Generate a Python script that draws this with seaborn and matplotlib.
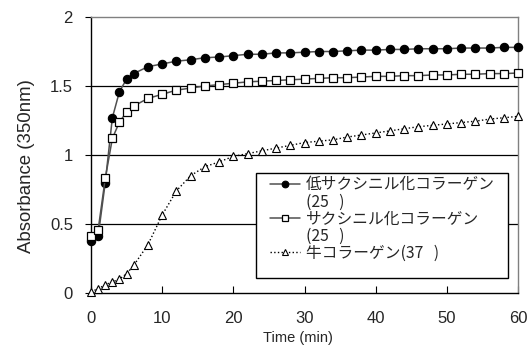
import numpy as np
import pandas as pd
import matplotlib
matplotlib.use("Agg")
import matplotlib.pyplot as plt
from matplotlib.lines import Line2D
from matplotlib.patches import Rectangle
import seaborn as sns

time = [0, 1, 2, 3, 4, 5, 6, 8, 10, 12, 14, 16, 18, 20, 22, 24, 26, 28, 30,
        32, 34, 36, 38, 40, 42, 44, 46, 48, 50, 52, 54, 56, 58, 60]
low_succ = [0.38, 0.41, 0.80, 1.27, 1.46, 1.55, 1.59, 1.64, 1.66, 1.68, 1.69, 1.705,
            1.71, 1.72, 1.73, 1.73, 1.74, 1.74, 1.745, 1.75, 1.75, 1.755, 1.76, 1.76,
            1.765, 1.765, 1.77, 1.77, 1.77, 1.775, 1.775, 1.775, 1.78, 1.78]
succ = [0.415, 0.457, 0.83, 1.12, 1.24, 1.31, 1.355, 1.41, 1.44, 1.47, 1.485, 1.50,
        1.51, 1.52, 1.53, 1.535, 1.54, 1.545, 1.55, 1.555, 1.56, 1.56, 1.565, 1.57,
        1.57, 1.575, 1.575, 1.58, 1.58, 1.585, 1.585, 1.59, 1.59, 1.594]
bovine = [0.01, 0.03, 0.06, 0.08, 0.10, 0.14, 0.20, 0.35, 0.565, 0.74, 0.85, 0.915,
          0.95, 0.99, 1.01, 1.03, 1.05, 1.07, 1.09, 1.10, 1.11, 1.13, 1.145, 1.16,
          1.175, 1.19, 1.205, 1.215, 1.225, 1.235, 1.245, 1.26, 1.27, 1.28]
labels = ["低サクシニル化コラーゲン", "サクシニル化コラーゲン", "牛コラーゲン(37   )"]
sublabel = "(25   )"
xticks = [0, 10, 20, 30, 40, 50, 60]
yticks = [0, 0.5, 1, 1.5, 2]
ytick_labels = ["0", "0.5", "1", "1.5", "2"]

sns.set_theme(style="white")
plt.rcParams['font.family'] = ['Liberation Sans', 'DejaVu Sans']

fig = plt.figure(figsize=(5.31, 3.5), dpi=100)
ax = fig.add_axes([0.1714, 0.1629, 0.8041, 0.7885])

sns.lineplot(x=time, y=low_succ, ax=ax, color="#505050", lw=1.1, marker="o",
             markersize=6.0, markerfacecolor="black", markeredgecolor="black",
             markeredgewidth=0.8, label=labels[0], clip_on=False, zorder=4)
sns.lineplot(x=time, y=succ, ax=ax, color="#505050", lw=1.1, marker="s",
             markersize=5.6, markerfacecolor="white", markeredgecolor="black",
             markeredgewidth=0.9, label=labels[1], clip_on=False, zorder=4)
sns.lineplot(x=time, y=bovine, ax=ax, color="black", lw=1.0, linestyle=":",
             marker="^", markersize=6.0, markerfacecolor="white", markeredgecolor="black",
             markeredgewidth=0.8, label=labels[2], clip_on=False, zorder=4)

ax.set_xlim(0, 60)
ax.set_ylim(0, 2)
ax.set_xticks(xticks)
ax.set_xticklabels([str(t) for t in xticks])
ax.set_yticks(yticks)
ax.set_yticklabels(ytick_labels)
ax.tick_params(axis='x', direction='in', length=5, width=0.8, color='black',
               labelsize=12, pad=13, bottom=True)
ax.tick_params(axis='y', direction='out', length=4, width=0.8, color='black',
               labelsize=12, pad=9, left=True)

ax.grid(axis='y', color='black', lw=0.9)
ax.grid(axis='x', visible=False)
gl = ax.get_ygridlines()
gl[-1].set_visible(False)
gl[0].set_visible(False)

for s in ['left', 'bottom']:
    ax.spines[s].set_color('black')
    ax.spines[s].set_linewidth(1.0)
for s in ['top', 'right']:
    ax.spines[s].set_color('#808080')
    ax.spines[s].set_linewidth(1.0)

ax.set_xlabel("Time (min)", fontsize=10.5)
ax.xaxis.set_label_coords(0.485, -0.136)
ax.set_ylabel("Absorbance (350nm)", fontsize=13.4)
ax.yaxis.set_label_coords(-0.131, 0.461)

# legend: frame drawn separately, sub-lines as extra rows
handles, _ = ax.get_legend_handles_labels()
blank = Line2D([], [], linestyle='none', marker=None)
leg_handles = [handles[0], blank, handles[1], blank, handles[2], blank]
leg_labels = [labels[0], sublabel, labels[1], sublabel, labels[2], " "]

frame = Rectangle((0.3864, 0.0543), 0.5906, 0.3805, transform=ax.transAxes,
                  facecolor='white', edgecolor='black', lw=1.0, zorder=4.5)
ax.add_patch(frame)

leg = ax.legend(leg_handles, leg_labels, loc='upper left', bbox_to_anchor=(0.4192, 0.423),
                prop={'family': ['Noto Sans CJK JP', 'DejaVu Sans'], 'size': 11.3},
                frameon=False, borderpad=0, labelspacing=0.01, handlelength=1.9,
                handletextpad=0.4, markerscale=0.8, borderaxespad=0)
leg.set_zorder(5)

fig.savefig("out.png", dpi=100, facecolor="white")
